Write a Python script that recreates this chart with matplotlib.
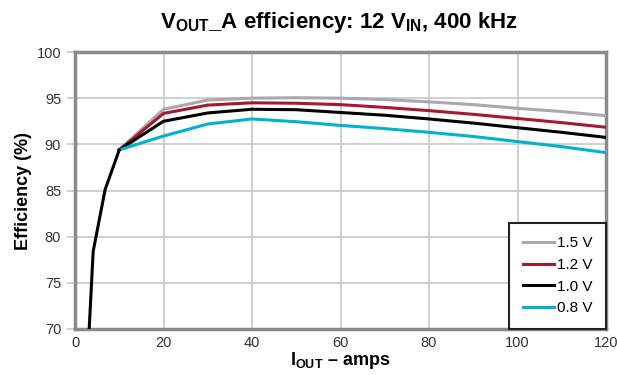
import matplotlib
matplotlib.use("Agg")
import matplotlib.pyplot as plt
from matplotlib import font_manager

# font: condensed look if available
names = set(f.name for f in font_manager.fontManager.ttflist)
fam = 'Liberation Sans Narrow' if 'Liberation Sans Narrow' in names else 'Liberation Sans'
plt.rcParams['font.family'] = [fam, 'DejaVu Sans']
plt.rcParams['mathtext.fontset'] = 'custom'
plt.rcParams['mathtext.rm'] = fam
plt.rcParams['mathtext.bf'] = fam + ':bold'

# data
x_rise = [3.2, 4.1, 6.8, 10.0]
y_rise = [70.0, 78.4, 85.1, 89.4]

x_load = [10, 20, 30, 40, 50, 60, 70, 80, 90, 100, 110, 120]
eff_15 = [89.4, 93.8, 94.8, 95.0, 95.05, 95.0, 94.85, 94.6, 94.3, 93.9, 93.55, 93.1]
eff_12 = [89.4, 93.35, 94.25, 94.5, 94.45, 94.3, 94.0, 93.65, 93.25, 92.8, 92.35, 91.85]
eff_10 = [89.4, 92.5, 93.4, 93.8, 93.75, 93.45, 93.15, 92.75, 92.3, 91.8, 91.3, 90.75]
eff_08 = [89.4, 90.9, 92.2, 92.75, 92.45, 92.05, 91.7, 91.3, 90.85, 90.3, 89.75, 89.1]

labels = ['1.5 V', '1.2 V', '1.0 V', '0.8 V']
colors = ['#a7a9ac', '#a6192e', '#000000', '#00b2cf']

fig = plt.figure(figsize=(6.17, 3.75), dpi=100)
ax = fig.add_axes([0.1216, 0.1227, 0.8606, 0.7386])

for ys, lab, c in zip([eff_15, eff_12, eff_10, eff_08], labels, colors):
    ax.plot(x_load, ys, color=c, lw=2.2, label=lab, zorder=3)
ax.plot(x_rise, y_rise, color='#000000', lw=2.2, zorder=3)

ax.set_xlim(0, 120)
ax.set_ylim(70, 100)
ax.set_xticks(range(0, 121, 20))
ax.set_yticks(range(70, 101, 5))
ax.grid(True, color='#cccccd', lw=1.3)
ax.set_axisbelow(True)
for s in ax.spines.values():
    s.set_color('#8a8a8d')
    s.set_linewidth(2.5)
ax.tick_params(axis='y', length=6, width=1.3, color='#cccccd', labelsize=10.5, pad=4)
ax.tick_params(axis='x', length=0, labelsize=10.5, pad=5)
for t in ax.get_xticklabels() + ax.get_yticklabels():
    t.set_color('#333333')

ax.set_ylabel('Efficiency (%)', fontsize=13, fontweight='bold', labelpad=3)
ax.set_xlabel(r'I$_{\mathbf{OUT}}$ – amps', fontsize=13, fontweight='bold', labelpad=0)
fig.text(0.55, 0.94, r'V$_{\mathbf{OUT}}$_A efficiency: 12 V$_{\mathbf{IN}}$, 400 kHz',
         ha='center', va='center', fontsize=16, fontweight='bold')

leg = ax.legend(loc='lower right', bbox_to_anchor=(1.0, 0.0), fontsize=11,
                frameon=True, fancybox=False, borderpad=0.9, handlelength=2.0,
                handletextpad=0.2, labelspacing=0.5, borderaxespad=0)
leg.get_frame().set_edgecolor('#222222')
leg.get_frame().set_linewidth(1.5)
leg.get_frame().set_alpha(1)

fig.savefig('out.png', dpi=100)
